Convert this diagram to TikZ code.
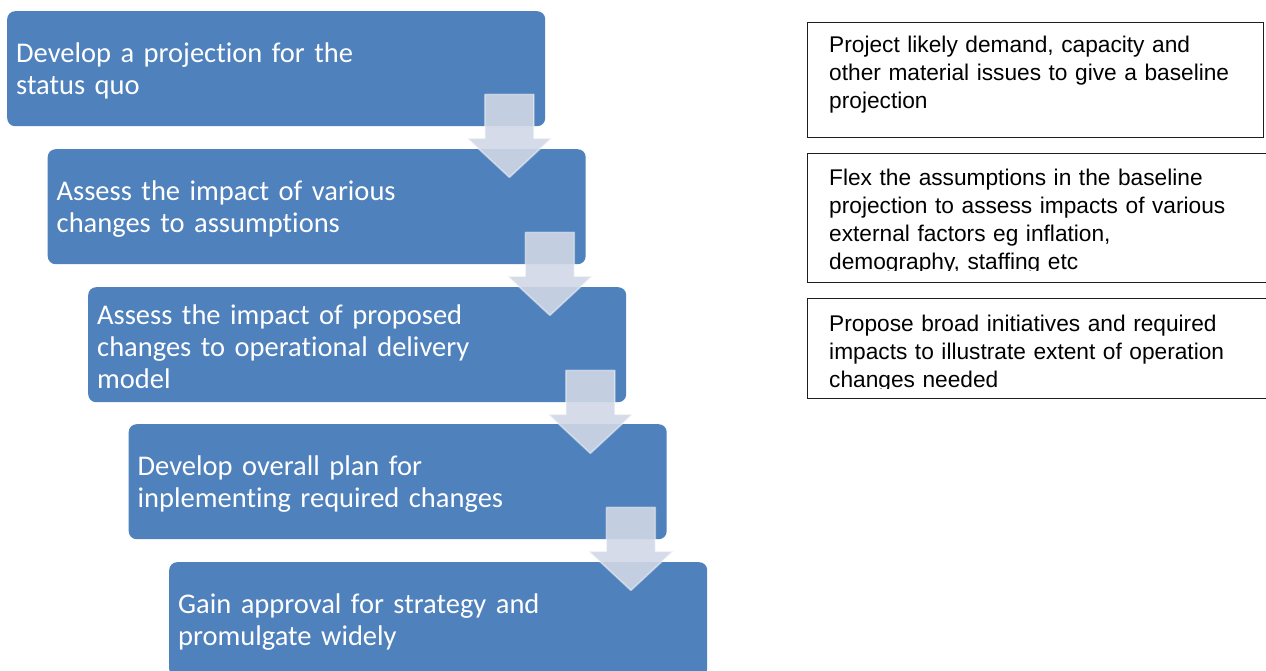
\documentclass[tikz,border=0pt]{standalone}
\usepackage{fontspec}
\usetikzlibrary{calc}
\newfontfamily\boxfont[Ligatures=NoCommon]{Carlito}
\newfontfamily\notefont{Liberation Sans}
\definecolor{stepblue}{RGB}{79,129,189}
\definecolor{arrowfill}{RGB}{208,215,230}
\definecolor{noteline}{RGB}{30,30,30}
\begin{document}
\begin{tikzpicture}[x=1pt,y=-1pt,
  stepbox/.style={rounded corners=8pt, fill=stepblue, draw=none,
    minimum width=538pt, minimum height=115pt, anchor=north west,
    inner sep=0pt},
  steptext/.style={anchor=west, inner xsep=9pt, inner ysep=0pt,
    text width=520pt, align=left, text=white,
    font=\boxfont\fontsize{28.5}{32}\selectfont},
  notebox/.style={draw=noteline, line width=1.4pt, anchor=north west,
    inner sep=0pt},
  notetext/.style={anchor=north west, inner sep=0pt, align=left,
    text width=440pt, font=\notefont\fontsize{22.7}{28}\selectfont},
  blockarrow/.style={fill=arrowfill, fill opacity=0.9, draw=white,
    draw opacity=0.45, line width=1.6pt, line join=round}
]
\useasboundingbox (0,0) rectangle (1266,671);
\clip (0,0) rectangle (1266,671);

% descending process steps
\node[stepbox] (b1) at (7,11)      {};
\node[stepbox] (b2) at (47.5,149)  {};
\node[stepbox] (b3) at (88,287)    {};
\node[stepbox] (b4) at (128.5,424) {};
\node[stepbox] (b5) at (169,562)   {};
\node[steptext] (s1) at ($(b1.west)+(0,2.5)$) {Develop a projection for the\\status quo};
\node[steptext] (s2) at ($(b2.west)+(0,2.5)$) {Assess the impact of various\\changes to assumptions};
\node[steptext] (s3) at ($(b3.west)+(0,2.5)$) {Assess the impact of proposed\\changes to operational delivery\\model};
\node[steptext] (s4) at ($(b4.west)+(0,2.5)$) {Develop overall plan for\\inplementing required changes};
\node[steptext] (s5) at ($(b5.west)+(0,2.5)$) {Gain approval for strategy and\\promulgate widely};

% block arrows linking each step to the next
\foreach \k/\n in {b1/b2,b2/b3,b3/b4,b4/b5}{
  \coordinate (a-\k) at ($(\k.south east)+(-36,-32)$);
  \draw[blockarrow] (a-\k) ++(-24.5,0) -- ++(49,0) -- ++(0,44) -- ++(17.5,0)
    -- ++(-42,39) -- ++(-42,-39) -- ++(17.5,0) -- cycle;
}

% explanatory notes
\node[notebox, minimum width=456pt, minimum height=115pt] (n1) at (807,22) {};
\node[notetext] (t1) at ($(n1.north west)+(22,14)$)
  {Project likely demand, capacity and\\other material issues to give a baseline\\projection};

\node[notebox, minimum width=470pt, minimum height=129pt] (n2) at (807,153) {};
\begin{scope}
  \clip ($(n2.north west)+(2,2)$) rectangle ($(n2.south east)+(-2,-13)$);
  \node[notetext] (t2) at ($(n2.north west)+(22,16)$)
    {Flex the assumptions in the baseline\\projection to assess impacts of various\\external factors eg inflation,\\demography, staffing etc};
\end{scope}

\node[notebox, minimum width=470pt, minimum height=100pt] (n3) at (807,298) {};
\begin{scope}
  \clip ($(n3.north west)+(2,2)$) rectangle ($(n3.south east)+(-2,-11)$);
  \node[notetext] (t3) at ($(n3.north west)+(22,17)$)
    {Propose broad initiatives and required\\impacts to illustrate extent of operation\\changes needed};
\end{scope}
\end{tikzpicture}
\end{document}
